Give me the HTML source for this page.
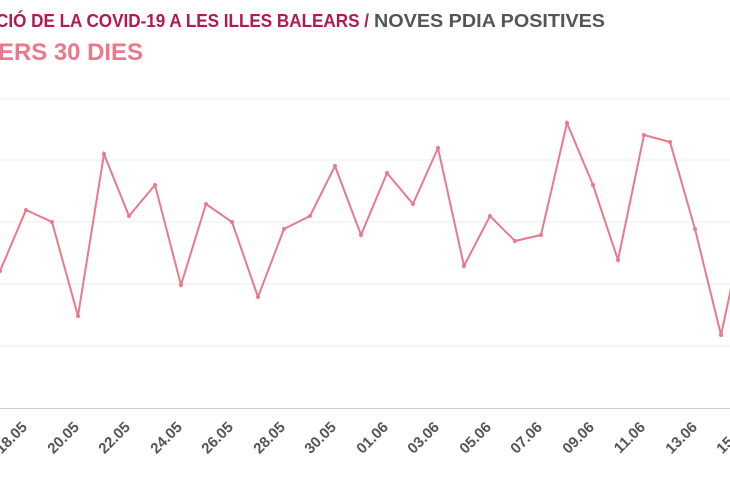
<!DOCTYPE html>
<html><head><style>body{margin:0;background:#fff}svg{display:block}</style></head><body>
<svg width="730" height="500" xmlns="http://www.w3.org/2000/svg" font-family="Liberation Sans, sans-serif">
<text x="-4" y="27" font-size="18" font-weight="bold" fill="#b5174f" textLength="373" lengthAdjust="spacingAndGlyphs">CIÓ DE LA COVID-19 A LES ILLES BALEARS /</text>
<text x="374" y="27" font-size="18" font-weight="bold" fill="#555" textLength="231" lengthAdjust="spacingAndGlyphs">NOVES PDIA POSITIVES</text>
<text x="-2" y="60" font-size="24" font-weight="bold" fill="#e87a8c" textLength="145" lengthAdjust="spacingAndGlyphs">ERS 30 DIES</text>
<g stroke="#eee" stroke-width="1">
<line x1="0" x2="730" y1="99" y2="99"/><line x1="0" x2="730" y1="160" y2="160"/><line x1="0" x2="730" y1="222" y2="222"/><line x1="0" x2="730" y1="284" y2="284"/><line x1="0" x2="730" y1="346" y2="346"/>
</g>
<line x1="0" x2="730" y1="408.5" y2="408.5" stroke="#ccc"/>
<polyline fill="none" stroke="#e87a8c" stroke-width="2" points="0,271 26,210 52,222 78,316 104,154 129,216 155,185 181,285 206,204 232,222 258,297 284,229 310,216 335,166 361,235 387,173 413,204 438,148 464,266 490,216 515,241 541,235 567,123 593,185 618,260 644,135 670,142 695,229 721,335 735,270"/>
<g fill="#e87a8c">
<circle cx="0" cy="271" r="2"/><circle cx="26" cy="210" r="2"/><circle cx="52" cy="222" r="2"/><circle cx="78" cy="316" r="2"/><circle cx="104" cy="154" r="2"/><circle cx="129" cy="216" r="2"/><circle cx="155" cy="185" r="2"/><circle cx="181" cy="285" r="2"/><circle cx="206" cy="204" r="2"/><circle cx="232" cy="222" r="2"/><circle cx="258" cy="297" r="2"/><circle cx="284" cy="229" r="2"/><circle cx="310" cy="216" r="2"/><circle cx="335" cy="166" r="2"/><circle cx="361" cy="235" r="2"/><circle cx="387" cy="173" r="2"/><circle cx="413" cy="204" r="2"/><circle cx="438" cy="148" r="2"/><circle cx="464" cy="266" r="2"/><circle cx="490" cy="216" r="2"/><circle cx="515" cy="241" r="2"/><circle cx="541" cy="235" r="2"/><circle cx="567" cy="123" r="2"/><circle cx="593" cy="185" r="2"/><circle cx="618" cy="260" r="2"/><circle cx="644" cy="135" r="2"/><circle cx="670" cy="142" r="2"/><circle cx="695" cy="229" r="2"/><circle cx="721" cy="335" r="2"/>
</g>
<g font-size="15" font-weight="bold" fill="#555" text-anchor="end">
<text transform="translate(28,428) rotate(-45)">18.05</text>
<text transform="translate(80,428) rotate(-45)">20.05</text>
<text transform="translate(131,428) rotate(-45)">22.05</text>
<text transform="translate(183,428) rotate(-45)">24.05</text>
<text transform="translate(234,428) rotate(-45)">26.05</text>
<text transform="translate(286,428) rotate(-45)">28.05</text>
<text transform="translate(337,428) rotate(-45)">30.05</text>
<text transform="translate(389,428) rotate(-45)">01.06</text>
<text transform="translate(440,428) rotate(-45)">03.06</text>
<text transform="translate(492,428) rotate(-45)">05.06</text>
<text transform="translate(543,428) rotate(-45)">07.06</text>
<text transform="translate(595,428) rotate(-45)">09.06</text>
<text transform="translate(646,428) rotate(-45)">11.06</text>
<text transform="translate(698,428) rotate(-45)">13.06</text>
<text transform="translate(749,428) rotate(-45)">15.06</text>
</g>
</svg>
</body></html>
